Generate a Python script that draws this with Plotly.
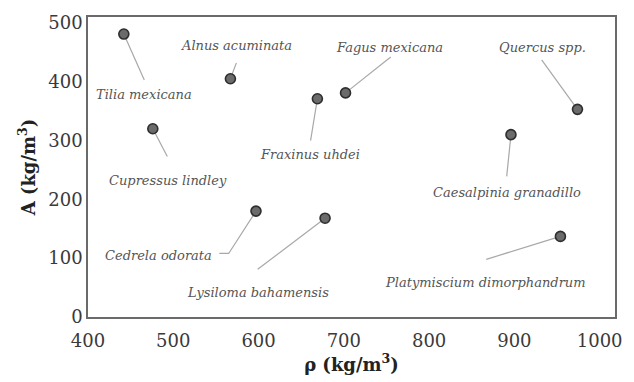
import plotly.graph_objects as go

species = ["Tilia mexicana", "Alnus acuminata", "Cupressus lindley", "Fraxinus uhdei",
           "Fagus mexicana", "Quercus spp.", "Caesalpinia granadillo", "Cedrela odorata",
           "Lysiloma bahamensis", "Platymiscium dimorphandrum"]
rho = [442, 567, 476, 669, 702, 974, 896, 597, 678, 954]
A = [481, 405, 320, 371, 381, 353, 310, 180, 168, 137]

# leader line paths (from the point to the label), data units
leader_x = [[442, 466], [567, 574], [476, 493], [669, 661], [702, 755], [974, 932],
            [896, 891], [597, 565, 554], [678, 599], [954, 867]]
leader_y = [[481, 403], [405, 432], [320, 273], [371, 300], [381, 442], [353, 437],
            [310, 239], [180, 108, 108], [168, 81], [137, 98]]

label_x = [466, 574, 494, 660, 753, 933, 891, 483, 599, 866]
label_y = [378, 461, 232, 276, 459, 459, 212, 105, 42, 59]

x_ticks = [400, 500, 600, 700, 800, 900, 1000]
y_ticks = [0, 100, 200, 300, 400, 500]

fig = go.Figure()

lx, ly = [], []
for xs, ys in zip(leader_x, leader_y):
    lx += xs + [None]
    ly += ys + [None]
fig.add_trace(go.Scatter(x=lx, y=ly, mode="lines",
                         line=dict(color="#a8a8a8", width=1.2),
                         hoverinfo="skip", showlegend=False))

fig.add_trace(go.Scatter(x=rho, y=A, mode="markers", text=species,
                         marker=dict(size=10, color="#6b6b6b",
                                     line=dict(color="#2e2e2e", width=1.6)),
                         showlegend=False))

for s, x, y in zip(species, label_x, label_y):
    fig.add_annotation(x=x, y=y, text=s, showarrow=False,
                       font=dict(family="DejaVu Serif", size=13, color="#555555",
                                 style="italic"),
                       xanchor="center", yanchor="middle")

fig.update_layout(
    width=634, height=382,
    margin=dict(l=88, r=12, t=17, b=64),
    paper_bgcolor="white", plot_bgcolor="white",
    font=dict(family="DejaVu Serif", color="#222222"),
)
fig.update_xaxes(range=[400, 1018], tickvals=x_ticks, showgrid=False, zeroline=False,
                 showline=True, mirror=True, linecolor="#6a6a6a", linewidth=1.5,
                 ticks="outside", ticklen=7, tickcolor="rgba(0,0,0,0)",
                 tickfont=dict(size=18, color="#3a3a3a"),
                 title=dict(text="<b>ρ (kg/m<sup>3</sup>)</b>", font=dict(size=18, color="#222222"),
                            standoff=6))
fig.update_yaxes(range=[0, 510], tickvals=y_ticks, showgrid=False, zeroline=False,
                 showline=True, mirror=True, linecolor="#6a6a6a", linewidth=1.5,
                 ticks="", tickfont=dict(size=18, color="#3a3a3a"),
                 title=dict(text="<b>A (kg/m<sup>3</sup>)</b>", font=dict(size=18, color="#222222"),
                            standoff=8))

fig.write_html("out.html")
